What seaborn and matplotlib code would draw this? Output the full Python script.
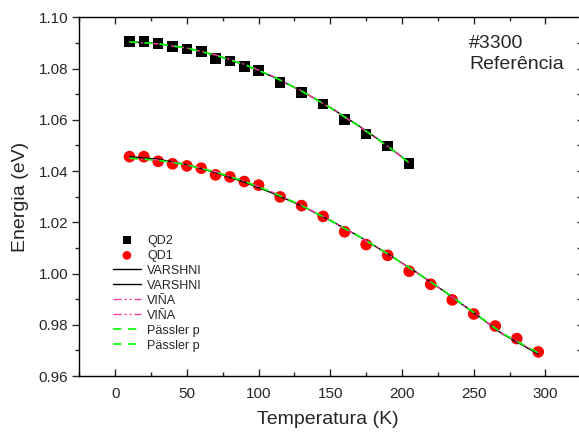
import matplotlib
matplotlib.use("Agg")
import matplotlib.pyplot as plt
import seaborn as sns
import numpy as np
import pandas as pd
from matplotlib.ticker import MultipleLocator

# ---- data ----
T_qd2 = [10, 20, 30, 40, 50, 60, 70, 80, 90, 100, 115, 130, 145, 160, 175, 190, 205]
E_qd2 = [1.0905, 1.0905, 1.0897, 1.0887, 1.0877, 1.0867, 1.0840, 1.0830, 1.0809, 1.0792,
         1.0746, 1.0707, 1.0662, 1.0601, 1.0545, 1.0498, 1.0430]
T_qd1 = [10, 20, 30, 40, 50, 60, 70, 80, 90, 100, 115, 130, 145, 160, 175, 190, 205,
         220, 235, 250, 265, 280, 295]
E_qd1 = [1.0456, 1.0456, 1.0438, 1.0428, 1.0420, 1.0411, 1.0385, 1.0377, 1.0359, 1.0345,
         1.0299, 1.0265, 1.0223, 1.0163, 1.0113, 1.0071, 1.0009, 0.9958, 0.9897, 0.9842,
         0.9795, 0.9746, 0.9694]

# fitted curves
T_fit2 = [10, 30, 50, 70, 90, 110, 130, 150, 170, 190, 205]
E_var2 = [1.0905, 1.0897, 1.0880, 1.0852, 1.0815, 1.0768, 1.0712, 1.0648, 1.0576, 1.0498, 1.0433]
E_vin2 = [1.0903, 1.0896, 1.0880, 1.0853, 1.0817, 1.0770, 1.0713, 1.0647, 1.0574, 1.0496, 1.0432]
E_pas2 = [1.0904, 1.0897, 1.0880, 1.0852, 1.0816, 1.0769, 1.0712, 1.0647, 1.0575, 1.0497, 1.0432]

T_fit1 = [10, 30, 50, 70, 90, 110, 130, 150, 170, 190, 210, 230, 250, 270, 295]
E_var1 = [1.0456, 1.0446, 1.0425, 1.0394, 1.0357, 1.0313, 1.0264, 1.0207, 1.0145, 1.0077,
          1.0005, 0.9928, 0.9847, 0.9764, 0.9686]
E_vin1 = [1.0450, 1.0443, 1.0425, 1.0397, 1.0361, 1.0317, 1.0266, 1.0208, 1.0144, 1.0076,
          1.0004, 0.9928, 0.9848, 0.9766, 0.9690]
E_pas1 = [1.0450, 1.0442, 1.0424, 1.0396, 1.0360, 1.0316, 1.0265, 1.0207, 1.0145, 1.0077,
          1.0005, 0.9929, 0.9848, 0.9766, 0.9690]

x_ticks = [0, 50, 100, 150, 200, 250, 300]
y_ticks = [0.96, 0.98, 1.00, 1.02, 1.04, 1.06, 1.08, 1.10]

sns.set_style("ticks")
plt.rcParams['font.family'] = ['Liberation Sans', 'DejaVu Sans']

fig = plt.figure(figsize=(5.79, 4.37), dpi=100)
ax = fig.add_axes([79.3 / 579, 1 - 376 / 437, (577 - 79.3) / 579, (376 - 17.3) / 437])

df2 = pd.DataFrame({"T": T_qd2, "E": E_qd2})
df1 = pd.DataFrame({"T": T_qd1, "E": E_qd1})

sns.scatterplot(data=df2, x="T", y="E", marker="s", s=58, color="black",
                edgecolor="none", label="QD2", ax=ax, zorder=2)
sns.scatterplot(data=df1, x="T", y="E", marker="o", s=70, color="#ff0000",
                edgecolor="none", label="QD1", ax=ax, zorder=2)

lw = 1.0
sns.lineplot(x=T_fit2, y=E_var2, color="black", lw=lw, label="VARSHNI", ax=ax, zorder=3)
sns.lineplot(x=T_fit1, y=E_var1, color="black", lw=lw, label="VARSHNI", ax=ax, zorder=3)
sns.lineplot(x=T_fit2, y=E_vin2, color="#ff3fa0", lw=lw, label="VIÑA", ax=ax, zorder=4)
sns.lineplot(x=T_fit1, y=E_vin1, color="#ff3fa0", lw=lw, label="VIÑA", ax=ax, zorder=4)
sns.lineplot(x=T_fit2, y=E_pas2, color="#00ff00", lw=1.2, label="Pässler p", ax=ax, zorder=5)
sns.lineplot(x=T_fit1, y=E_pas1, color="#00ff00", lw=1.2, label="Pässler p", ax=ax, zorder=5)

lines = ax.get_lines()
for ln in lines[2:4]:
    ln.set_dashes([6, 2, 1.5, 2, 1.5, 2])
for ln in lines[4:6]:
    ln.set_dashes([5, 4])

ax.set_xlim(-25, 322)
ax.set_ylim(0.96, 1.10)
ax.set_xticks(x_ticks)
ax.set_yticks(y_ticks)
ax.set_yticklabels([f"{v:.2f}" for v in y_ticks])
ax.xaxis.set_minor_locator(MultipleLocator(25))
ax.yaxis.set_minor_locator(MultipleLocator(0.01))

ax.tick_params(axis="x", which="major", direction="in", length=5, width=1,
               top=True, labelsize=11, pad=8)
ax.tick_params(axis="x", which="minor", direction="in", length=3, width=1, top=True)
ax.tick_params(axis="y", which="major", direction="out", length=5, width=1,
               right=True, labelsize=11, pad=3)
ax.tick_params(axis="y", which="minor", direction="out", length=3, width=1, right=True)
for sp in ["left", "bottom", "top"]:
    ax.spines[sp].set_linewidth(1.0)
    ax.spines[sp].set_color("black")
ax.spines["right"].set_visible(False)

ax.set_xlabel("Temperatura (K)", fontsize=14, labelpad=7)
ax.set_ylabel("Energia (eV)", fontsize=14, labelpad=7)

ax.text(0.783, 0.95, "#3300\nReferência", transform=ax.transAxes, fontsize=14,
        va="top", ha="left", linespacing=1.3)

ax.legend(loc="upper left", bbox_to_anchor=(0.068, 0.394), frameon=False,
          fontsize=9, handlelength=2.2, handletextpad=0.5, labelspacing=0.24,
          borderaxespad=0.0, borderpad=0.0, markerscale=0.75)

fig.savefig("out.png", dpi=100)
